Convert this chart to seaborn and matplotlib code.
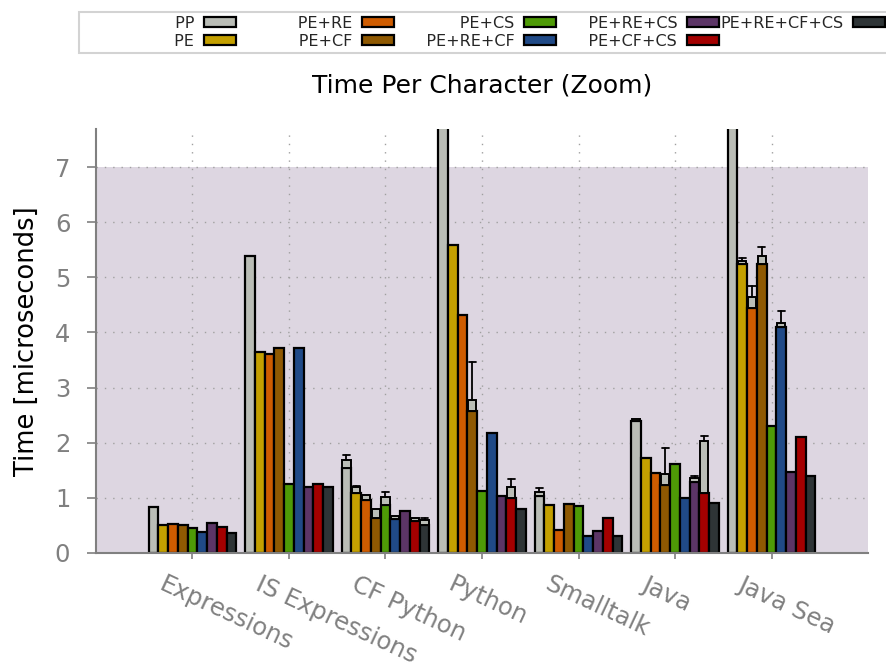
import numpy as np
import pandas as pd
import matplotlib
matplotlib.use("Agg")
import matplotlib.pyplot as plt
from matplotlib.patches import Rectangle
from matplotlib.transforms import ScaledTranslation
import seaborn as sns

nan = float("nan")

benchmarks = ["Expressions", "IS Expressions", "CF Python", "Python",
              "Smalltalk", "Java", "Java Sea"]
configs = ["PP", "PE", "PE+RE", "PE+CF", "PE+CS", "PE+RE+CF",
           "PE+RE+CS", "PE+CF+CS", "PE+RE+CF+CS"]
colors = ["#babdb6", "#c4a000", "#ce5c00", "#8f5902", "#4e9a06",
          "#204a87", "#5c3566", "#a40000", "#2e3436"]

# mean time per character, one row per config, one column per benchmark
times = [
    [0.84, 5.39, 1.54, 9.00, 1.04, 2.40, 7.75],   # PP
    [0.50, 3.64, 1.08, 5.58, 0.87, 1.73, 5.24],   # PE
    [0.52, 3.60, 0.96, 4.31, 0.42, 1.45, 4.44],   # PE+RE
    [0.51, 3.71, 0.64, 2.58, 0.88, 1.23, 5.24],   # PE+CF
    [0.46, 1.26, 0.87, 1.13, 0.85, 1.61, 2.30],   # PE+CS
    [0.38, 3.71, 0.61, 2.17, 0.30, 1.00, 4.10],   # PE+RE+CF
    [0.54, 1.19, 0.76, 1.04, 0.40, 1.28, 1.46],   # PE+RE+CS
    [0.48, 1.25, 0.58, 0.99, 0.63, 1.09, 2.10],   # PE+CF+CS
    [0.36, 1.19, 0.51, 0.80, 0.30, 0.90, 1.40],   # PE+RE+CF+CS
]
# upper end of the grey spread box drawn on top of a bar
box_top = [
    [nan, nan, 1.69, nan, 1.10, 2.43, nan],
    [nan, nan, 1.20, nan, nan, nan, 5.29],
    [nan, nan, 1.05, nan, nan, nan, 4.65],
    [nan, nan, 0.80, 2.78, nan, 1.43, 5.38],
    [nan, nan, 1.02, nan, nan, nan, nan],
    [nan, nan, 0.67, nan, nan, nan, 4.18],
    [nan, nan, nan, nan, nan, 1.36, nan],
    [nan, nan, 0.63, 1.19, nan, 2.03, nan],
    [nan, nan, 0.60, nan, nan, nan, nan],
]
# whisker end above the box
whisker_top = [
    [nan, nan, 1.78, nan, 1.17, nan, nan],
    [nan, nan, 1.22, nan, nan, nan, 5.35],
    [nan, nan, nan, nan, nan, nan, 4.85],
    [nan, nan, nan, 3.47, nan, 1.90, 5.55],
    [nan, nan, 1.10, nan, nan, nan, nan],
    [nan, nan, nan, nan, nan, nan, 4.39],
    [nan, nan, nan, nan, nan, 1.40, nan],
    [nan, nan, nan, 1.34, nan, 2.13, nan],
    [nan, nan, 0.64, nan, nan, nan, nan],
]

GREY = "#808080"
SHADE = "#ddd6e1"

sns.set_style("white")
plt.rcParams["font.family"] = ["DejaVu Sans"]

rows = []
for c, vals in zip(configs, times):
    for b, v in zip(benchmarks, vals):
        rows.append({"benchmark": b, "config": c, "time": v})
df = pd.DataFrame(rows)

fig = plt.figure(figsize=(8.87, 6.68), dpi=100)
ax = fig.add_axes([0.1082, 0.1722, 0.8704, 0.6347])

ax.axhspan(0, 7, color=SHADE, zorder=0, lw=0)

sns.barplot(data=df, x="benchmark", y="time", hue="config",
            order=benchmarks, hue_order=configs, palette=colors,
            saturation=1, width=0.91, edgecolor="black", linewidth=1.6,
            errorbar=None, ax=ax)

# grey spread boxes + whiskers, positioned from the drawn bars
for i, cont in enumerate(ax.containers):
    for j, bar in enumerate(cont):
        lo = times[i][j]
        hi = box_top[i][j]
        wt = whisker_top[i][j]
        x0, w = bar.get_x(), bar.get_width()
        if not np.isnan(hi):
            ax.add_patch(Rectangle((x0 + 0.08 * w, lo), 0.84 * w, hi - lo,
                                   facecolor="#babdb6", edgecolor="black",
                                   linewidth=1.4, zorder=3))
            if not np.isnan(wt):
                xc = x0 + w / 2
                ax.plot([xc, xc], [hi, wt], color="black", lw=1.3, zorder=3)
                ax.plot([xc - 0.38 * w, xc + 0.38 * w], [wt, wt],
                        color="black", lw=1.3, zorder=3)

ax.set_xlim(-1, 7)
ax.set_ylim(0, 7.69)
ax.set_yticks(range(0, 8))
ax.set_axisbelow(True)
ax.grid(True, color="#a0a0a0", linestyle=(0, (1, 5)), linewidth=1.0)

for s in ["top", "right"]:
    ax.spines[s].set_visible(False)
for s in ["left", "bottom"]:
    ax.spines[s].set_color(GREY)
    ax.spines[s].set_linewidth(1.5)

ax.tick_params(axis="y", direction="out", length=6.5, width=1.2, color=GREY,
               labelcolor=GREY, labelsize=17.5, pad=12, left=True)
ax.tick_params(axis="x", direction="out", length=4.5, width=1.2, color=GREY,
               labelcolor=GREY, labelsize=17.5, bottom=True)
ax.set_xticks(range(len(benchmarks)))
ax.set_xticklabels(benchmarks, rotation=-25, ha="left", va="top",
                   rotation_mode="anchor")
shift = ScaledTranslation(-0.27, -0.08, fig.dpi_scale_trans)
for lab in ax.get_xticklabels():
    lab.set_transform(lab.get_transform() + shift)

ax.set_xlabel("")
ax.set_ylabel("Time [microseconds]", fontsize=18.5, color="black", labelpad=11)
ax.set_title("Time Per Character (Zoom)", fontsize=18, color="black", pad=26)

handles, labels = ax.get_legend_handles_labels()
ax.get_legend().remove()
longest = max(len(l) for l in labels)
labels = [l if len(l) == longest else l.rjust(11, "\u2007") for l in labels]
leg = fig.legend(handles, labels, loc="upper right", ncol=5,
                 bbox_to_anchor=(889 / 887, 1 - 11.7 / 668),
                 bbox_transform=fig.transFigure,
                 fontsize=11.5, markerfirst=False, handlelength=2.0,
                 handleheight=0.6, handletextpad=0.6, columnspacing=0.1,
                 labelspacing=0.2, borderpad=0.25, borderaxespad=0,
                 frameon=True, fancybox=False, edgecolor="#c8c8c8")
leg.get_frame().set_linewidth(1.5)

fig.savefig("out.png", dpi=100)
